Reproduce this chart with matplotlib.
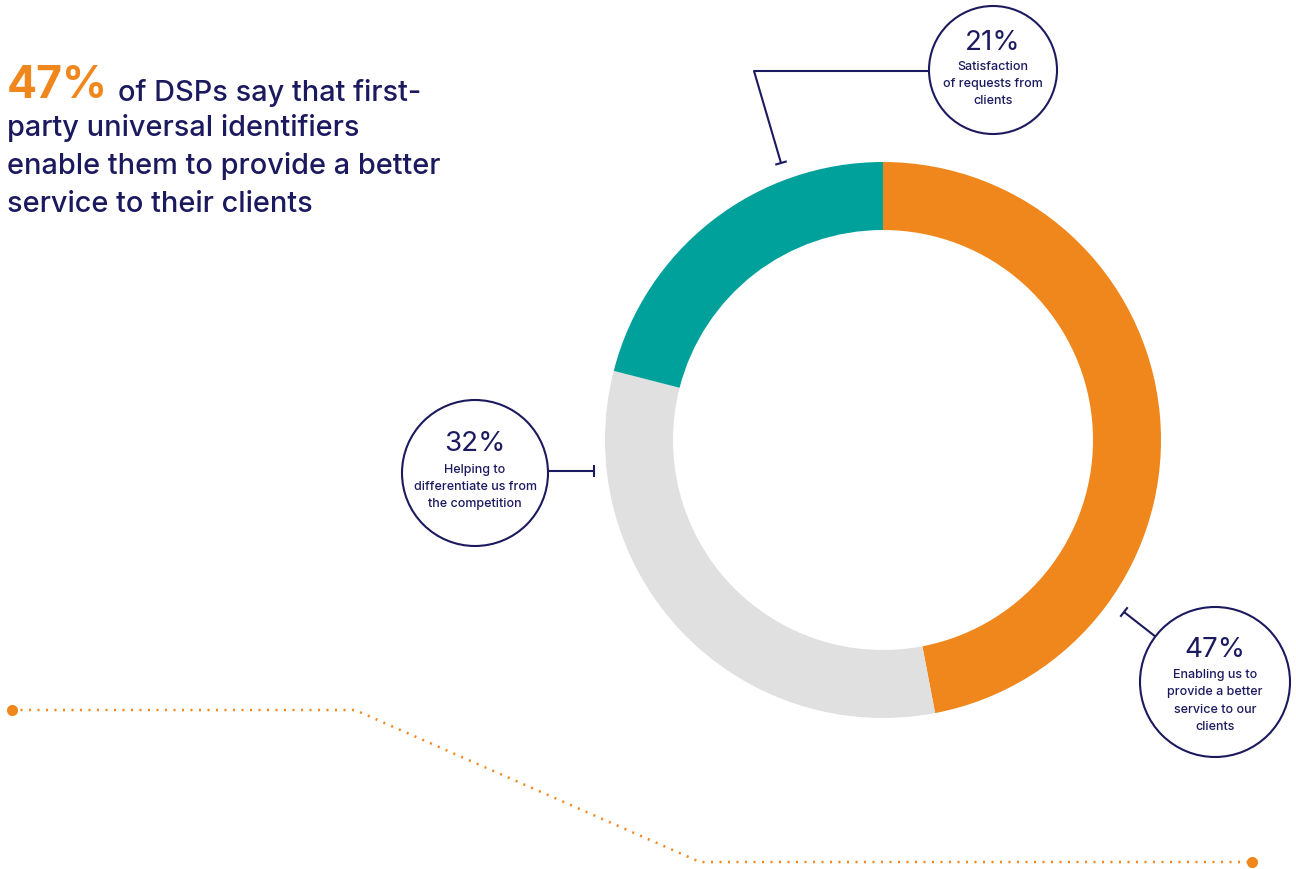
import matplotlib
matplotlib.use("Agg")
import matplotlib.pyplot as plt
from matplotlib.patches import Circle
import numpy as np

# Survey shares
categories = ["Enabling us to\nprovide a better\nservice to our\nclients",
              "Helping to\ndifferentiate us from\nthe competition",
              "Satisfaction\nof requests from\nclients"]
values = [47, 32, 21]
colors = ["#F0871C", "#E0E0E0", "#00A19B"]

headline_value = "47%"
headline_rest = ["of DSPs say that first-",
                 "party universal identifiers",
                 "enable them to provide a better",
                 "service to their clients"]

NAVY = "#1C1A5E"
ORANGE = "#F0871C"
FONT = ["Inter", "DejaVu Sans"]

W, H = 1296, 869
fig = plt.figure(figsize=(W / 100, H / 100), dpi=100)
ax = fig.add_axes([0, 0, 1, 1])


def Y(y):
    return H - y


# Donut
cx, cy, R, ring = 883, Y(440), 278, 68
ax.pie(values, colors=colors, startangle=90, counterclock=False,
       center=(cx, cy), radius=R,
       wedgeprops=dict(width=ring, linewidth=0))

ax.set_xlim(0, W)
ax.set_ylim(0, H)
ax.set_aspect("equal")
ax.axis("off")

# Headline
big = ax.text(7, Y(98), headline_value, color=ORANGE, fontsize=32, fontweight="bold",
              family=FONT, va="baseline", ha="left")
ax.annotate(headline_rest[0], xy=(1, 0), xycoords=big, xytext=(7, 0),
            textcoords="offset points", color=NAVY, fontsize=20.8,
            fontweight="medium", family=FONT, va="bottom", ha="left")
for i, line in enumerate(headline_rest[1:]):
    ax.text(7, Y(136 + 38 * i), line, color=NAVY, fontsize=20.8, fontweight="medium",
            family=FONT, va="baseline", ha="left")


def callout(center, radius, pct, label, pct_y, label_y0, step):
    ax.add_patch(Circle((center[0], Y(center[1])), radius, facecolor="white",
                        edgecolor=NAVY, linewidth=1.5, zorder=3))
    ax.text(center[0], Y(pct_y), pct, color=NAVY, fontsize=20, family=FONT,
            ha="center", va="center", zorder=4)
    for i, line in enumerate(label.split("\n")):
        ax.text(center[0], Y(label_y0 + step * i), line, color=NAVY, fontsize=9,
                family=FONT, fontweight="medium", ha="center", va="center", zorder=4)


def leader(points, tick=6):
    xs = [p[0] for p in points]
    ys = [Y(p[1]) for p in points]
    ax.plot(xs, ys, color=NAVY, lw=1.5, solid_capstyle="butt", zorder=2)
    # small perpendicular end tick
    dx, dy = xs[-1] - xs[-2], ys[-1] - ys[-2]
    n = np.hypot(dx, dy)
    px, py = -dy / n * tick, dx / n * tick
    ax.plot([xs[-1] - px, xs[-1] + px], [ys[-1] - py, ys[-1] + py],
            color=NAVY, lw=1.5, solid_capstyle="butt", zorder=2)


pcts = [f"{v}%" for v in values]

# 47% callout (bottom right)
leader([(1156, 637), (1124, 612)])
callout((1215, 682), 75, pcts[0], categories[0], 650, 675, 17.5)

# 32% callout (left)
leader([(548, 471), (594, 471)])
callout((475, 473), 73, pcts[1], categories[1], 444, 470, 17)

# 21% callout (top)
leader([(930, 71), (754, 71), (781, 163)])
callout((993, 70), 64, pcts[2], categories[2], 43, 67, 17)

# Dotted decorative path
path_x = [12, 355, 700, 1252]
path_y = [710, 710, 862, 862]
ax.plot(path_x, [Y(v) for v in path_y], color=ORANGE, lw=1.8,
        dashes=(0.8, 2.6), dash_capstyle="butt", zorder=1)
ax.plot([path_x[0], path_x[-1]], [Y(path_y[0]), Y(path_y[-1])], "o",
        color=ORANGE, markersize=7, zorder=2)

fig.savefig("out.png", dpi=100, facecolor="white")
